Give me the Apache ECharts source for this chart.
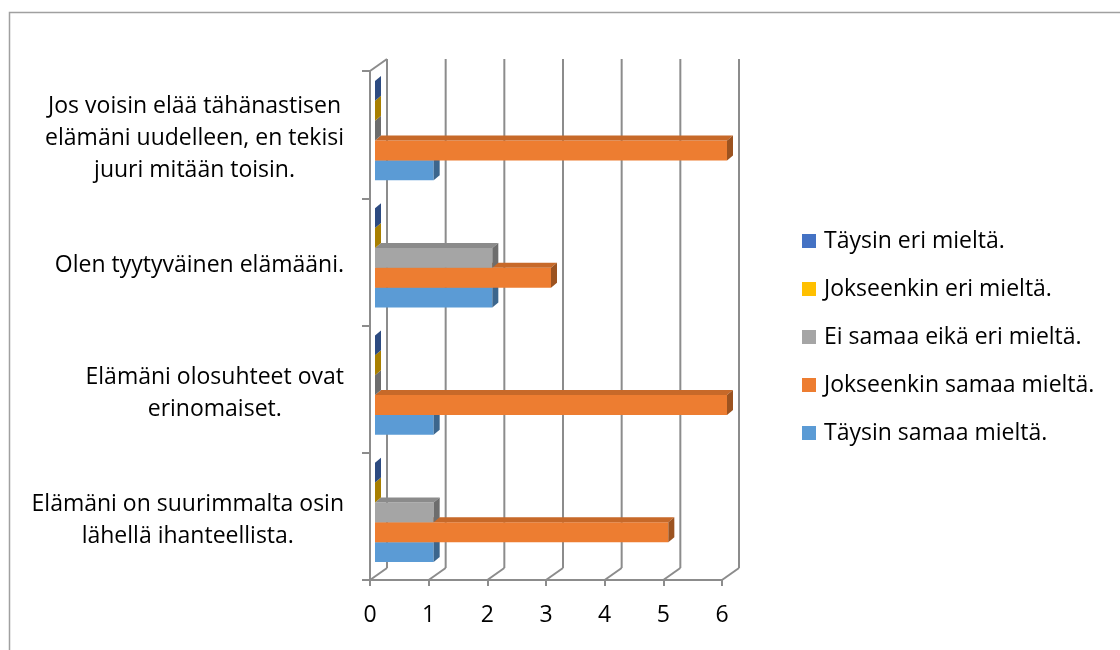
<!DOCTYPE html>
<html>
<head>
<meta charset="utf-8">
<script src="https://cdn.jsdelivr.net/npm/echarts@6/dist/echarts.min.js"></script>
<style>
  html, body { margin: 0; padding: 0; background: #fff; }
  #chart { width: 1120px; height: 650px; }
</style>
</head>
<body>
<div id="chart"></div>
<script>
// Statements (bottom to top on the chart)
const categories = [
  'Elämäni on suurimmalta osin\nlähellä ihanteellista.',
  'Elämäni olosuhteet ovat\nerinomaiset.',
  'Olen tyytyväinen elämääni.',
  'Jos voisin elää tähänastisen\nelämäni uudelleen, en tekisi\njuuri mitään toisin.'
];

// Answer counts per statement, one array per answer option
const taysinSamaa     = [1, 1, 2, 1];
const jokseenkinSamaa = [5, 6, 3, 6];
const eiSamaaEiEri    = [1, 0, 2, 0];
const jokseenkinEri   = [0, 0, 0, 0];
const taysinEri       = [0, 0, 0, 0];

const seriesNames = [
  'Täysin samaa mieltä.',
  'Jokseenkin samaa mieltä.',
  'Ei samaa eikä eri mieltä.',
  'Jokseenkin eri mieltä.',
  'Täysin eri mieltä.'
];
const seriesValues = [taysinSamaa, jokseenkinSamaa, eiSamaaEiEri, jokseenkinEri, taysinEri];
const seriesColors = ['#5B9BD5', '#ED7D31', '#A5A5A5', '#FFC000', '#4472C4'];

const xTicks = [0, 1, 2, 3, 4, 5, 6];

const FONT = '"Open Sans", "Noto Sans", sans-serif';
const FONT_SIZE = 23;
const LINE = '#8c8c8c';

// Depth of the box (back wall offset) and of each bar
const WALL_DX = 17, WALL_DY = -12;
const BAR_SHIFT_X = 5, BAR_SHIFT_Y = -4;
const BAR_DX = 6, BAR_DY = -5;
const BAR_FRACTION = 0.156;

function shade(hex, f) {
  const n = parseInt(hex.slice(1), 16);
  const r = Math.round(((n >> 16) & 255) * f);
  const g = Math.round(((n >> 8) & 255) * f);
  const b = Math.round((n & 255) * f);
  return 'rgb(' + r + ',' + g + ',' + b + ')';
}

// Floor diagonals and back-wall gridlines
function renderFrame(params, api) {
  const v = api.value(0);
  const cs = params.coordSys;
  const x = api.coord([v, 0])[0];
  const bottom = cs.y + cs.height;
  const top = cs.y;
  const style = { stroke: LINE, lineWidth: 2 };
  const children = [
    { type: 'line', shape: { x1: x, y1: bottom, x2: x + WALL_DX, y2: bottom + WALL_DY }, style: style },
    { type: 'line', shape: { x1: x + WALL_DX, y1: bottom + WALL_DY, x2: x + WALL_DX, y2: top + WALL_DY }, style: style }
  ];
  if (v === 0) {
    children.push({ type: 'line', shape: { x1: x, y1: top, x2: x + WALL_DX, y2: top + WALL_DY }, style: style });
  }
  return { type: 'group', children: children };
}

// 3D-looking bar: front face, top face, side face
function makeBarRenderer(idx) {
  const color = seriesColors[idx];
  return function (params, api) {
    const cat = api.value(0);
    const val = api.value(1);
    const p0 = api.coord([0, cat]);
    const p1 = api.coord([val, cat]);
    const band = api.size([0, 1])[1];
    const h = band * BAR_FRACTION;
    const cy = p0[1] + BAR_SHIFT_Y;
    const yBot = cy + 2.5 * h - idx * h;
    const yTop = yBot - h;
    const x0 = p0[0] + BAR_SHIFT_X;
    const x1 = p1[0] + BAR_SHIFT_X;
    const children = [];
    if (x1 > x0) {
      children.push({
        type: 'rect',
        shape: { x: x0, y: yTop, width: x1 - x0, height: h },
        style: { fill: color }
      });
      children.push({
        type: 'polygon',
        shape: { points: [[x0, yTop], [x1, yTop], [x1 + BAR_DX, yTop + BAR_DY], [x0 + BAR_DX, yTop + BAR_DY]] },
        style: { fill: shade(color, 0.84) }
      });
    }
    children.push({
      type: 'polygon',
      shape: { points: [[x1, yTop], [x1 + BAR_DX, yTop + BAR_DY], [x1 + BAR_DX, yBot + BAR_DY], [x1, yBot]] },
      style: { fill: shade(color, 0.66) }
    });
    return { type: 'group', children: children };
  };
}

const barSeries = seriesValues.map(function (vals, i) {
  return {
    name: seriesNames[i],
    type: 'custom',
    renderItem: makeBarRenderer(i),
    encode: { x: 1, y: 0 },
    itemStyle: { color: seriesColors[i] },
    z: 3 + i,
    data: vals.map(function (v, c) { return [c, v]; })
  };
});

const chart = echarts.init(document.getElementById('chart'), null, { renderer: 'canvas' });
chart.setOption({
  animation: false,
  backgroundColor: '#fff',
  graphic: [{
    type: 'rect',
    shape: { x: 9.5, y: 12.5, width: 1200, height: 700 },
    style: { fill: 'none', stroke: '#a0a0a0', lineWidth: 1.5 },
    z: -1
  }],
  grid: { left: 370, top: 71, width: 352, height: 509 },
  xAxis: {
    type: 'value',
    min: 0,
    max: 6,
    interval: 1,
    axisLine: { show: true, lineStyle: { color: LINE, width: 2 } },
    axisTick: { show: true, length: 6, lineStyle: { color: LINE, width: 2 } },
    axisLabel: { color: '#000', fontFamily: FONT, fontSize: FONT_SIZE, margin: 24, formatter: function (v) { return String(v); } },
    splitLine: { show: false }
  },
  yAxis: {
    type: 'category',
    data: categories,
    axisLine: { show: true, lineStyle: { color: LINE, width: 2 } },
    axisTick: { show: true, length: 8, lineStyle: { color: LINE, width: 2 } },
    axisLabel: {
      interval: 0,
      align: 'right',
      margin: 26,
      padding: [8, 0, 0, 0],
      formatter: function (v) {
        return v.split('\n').map(function (l) { return '{c|' + l + '}'; }).join('\n');
      },
      rich: {
        c: { align: 'center', color: '#000', fontFamily: FONT, fontSize: FONT_SIZE, lineHeight: 32 }
      }
    },
    splitLine: { show: false }
  },
  legend: {
    orient: 'vertical',
    left: 797,
    top: 222,
    itemWidth: 14,
    itemHeight: 14,
    itemGap: 20,
    icon: 'rect',
    data: seriesNames.slice().reverse(),
    textStyle: { color: '#000', fontFamily: FONT, fontSize: FONT_SIZE, lineHeight: 28, padding: [0, 0, 0, 3] }
  },
  series: [{
    name: 'frame',
    type: 'custom',
    renderItem: renderFrame,
    encode: { x: 0 },
    silent: true,
    z: 1,
    data: xTicks.map(function (v) { return [v]; })
  }].concat(barSeries)
});
</script>
</body>
</html>
